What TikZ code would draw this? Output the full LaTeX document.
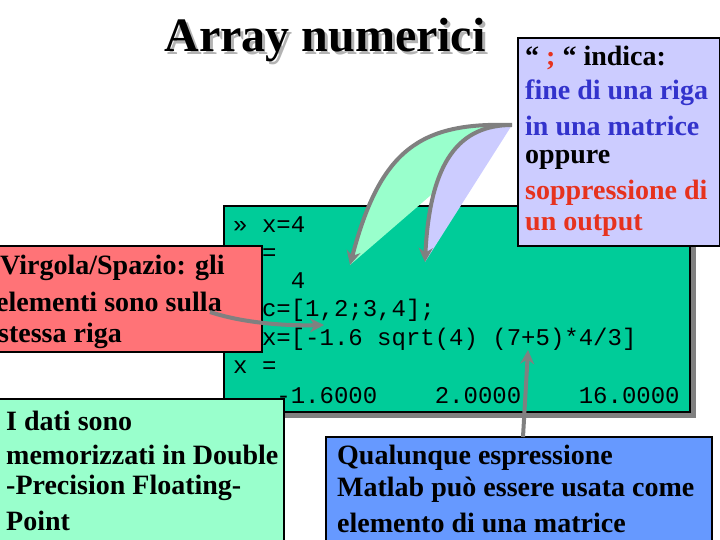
\documentclass[tikz,border=0pt]{standalone}
\usepackage{fontspec}
\setmainfont{Liberation Serif}
\setmonofont{Liberation Mono}
\usetikzlibrary{arrows.meta}
\definecolor{codegreen}{RGB}{0,204,153}
\definecolor{lightgreen}{RGB}{153,255,204}
\definecolor{salmon}{RGB}{255,115,119}
\definecolor{lavender}{RGB}{204,204,255}
\definecolor{midblue}{RGB}{102,153,255}
\definecolor{txtblue}{RGB}{51,51,204}
\definecolor{txtred}{RGB}{230,50,30}
\definecolor{arrgray}{RGB}{128,128,128}
\tikzset{
 box/.style={draw=black,line width=1.5pt},
 shadowbox/.style={fill=arrgray},
 code/.style={anchor=west,inner sep=0pt,font=\ttfamily\fontsize{24}{24}\selectfont},
 ser/.style={anchor=west,inner sep=0pt,font=\bfseries\fontsize{28}{28}\selectfont},
 garrow/.style={draw=arrgray,line width=4pt,-{Stealth[length=14pt,width=14pt]}},
}
\begin{document}
\begin{tikzpicture}[x=1pt,y=-1pt]
\useasboundingbox (0,0) rectangle (720,540);
% title
\node[inner sep=0pt,font=\bfseries\fontsize{48}{48}\selectfont,text=arrgray!60] at (328,43) {Array numerici};
\node[inner sep=0pt,font=\bfseries\fontsize{48}{48}\selectfont] (title) at (325,40) {Array numerici};
% code box
\fill[shadowbox] (230,212) rectangle (696,418);
\draw[box,fill=codegreen] (224,206) rectangle (690,412);
\node[code] (c1) at (233,225) {» x=4};
\node[code] (c2) at (233,254) {x =};
\node[code] (c3) at (233,281) {\ \ \ \ 4};
\node[code] (c4) at (233,310) {» c=[1,2;3,4];};
\node[code] (c5) at (233,339) {» x=[-1.6 sqrt(4) (7+5)*4/3]};
\node[code] (c6) at (233,367) {x =};
\node[code] (c7) at (233,396) {\ \ \ -1.6000\ \ \ \ 2.0000\ \ \ \ 16.0000};
% left red box
\draw[box,fill=salmon] (-2,246) rectangle (262,352);
\node[ser] (r1) at (0,268) {Virgola/Spazio: gli};
\node[ser] (r2) at (-4,302) {elementi sono sulla};
\node[ser] (r3) at (-2,336) {stessa riga};
% bottom left
\draw[box,fill=lightgreen] (-2,399) rectangle (284,542);
\node[ser] (g1) at (6,421) {I dati sono};
\node[ser] (g2) at (6,455) {memorizzati in Double};
\node[ser] (g3) at (6,488) {-Precision Floating-};
\node[ser] (g4) at (6,521) {Point};
% bottom right
\draw[box,fill=midblue] (326,437) rectangle (712,542);
\node[ser] (b1) at (337,458) {Qualunque espressione};
\node[ser] (b2) at (337,490) {Matlab può essere usata come};
\node[ser] (b3) at (337,523) {elemento di una matrice};
% top right blue box
\draw[box,fill=lavender] (518,38) rectangle (720,246);
\node[ser] (t1) at (525,58) {“ \textcolor{txtred}{;} “ indica:};
\node[ser,text=txtblue] (t2) at (525,93) {fine di una riga};
\node[ser,text=txtblue] (t3) at (525,126) {in una matrice};
\node[ser] (t4) at (525,160) {oppure};
\node[ser,text=txtred] (t5) at (525,193) {soppressione di};
\node[ser,text=txtred] (t6) at (525,226) {un output};
% curved arrows from blue box
\coordinate (src) at (512,125);
\coordinate (tipA) at (350,265);
\coordinate (tipB) at (425,262);
\fill[lightgreen] (src) .. controls (420,122) and (380,150) .. (tipA) -- cycle;
\fill[lavender] (src) .. controls (460,125) and (430,160) .. (tipB) -- cycle;
\draw[garrow] (src) .. controls (420,122) and (380,150) .. (tipA);
\draw[garrow] (src) .. controls (460,125) and (430,160) .. (tipB);
% arrow from red box
\coordinate (rs) at (210,312);
\coordinate (rt) at (324,325);
\draw[garrow] (rs) .. controls (240,322) and (280,326) .. (rt);
% arrow from bottom right box
\coordinate (bs) at (523,437);
\coordinate (bt) at (528,350);
\draw[garrow] (bs) -- (bt);
\end{tikzpicture}
\end{document}
